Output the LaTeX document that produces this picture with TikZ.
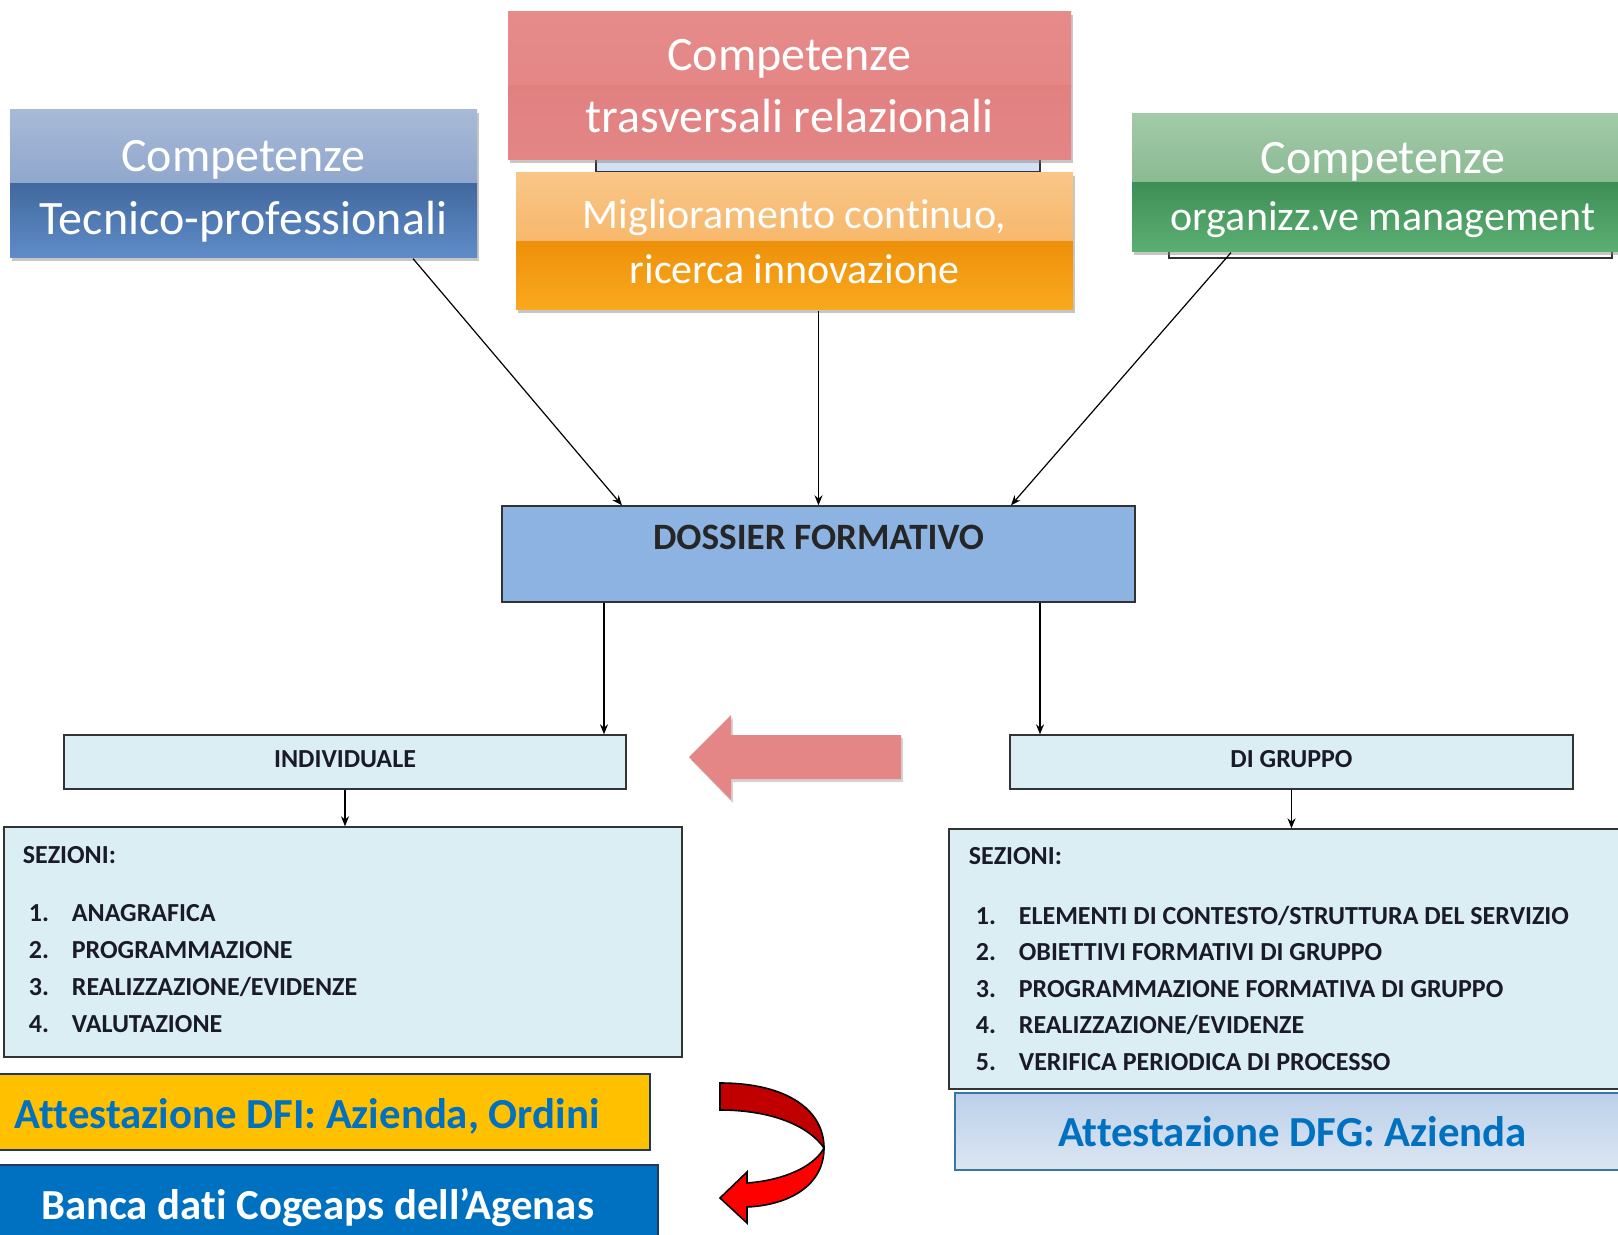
\documentclass[tikz,border=0pt]{standalone}
\usepackage{fontspec}
\setmainfont{Carlito}[Ligatures=NoCommon]
\usetikzlibrary{arrows.meta,shadows}

\definecolor{dossierblue}{HTML}{8DB3E2}
\definecolor{paleblue}{HTML}{DAEEF3}
\definecolor{attyellow}{HTML}{FFC000}
\definecolor{attblue}{HTML}{0070C0}
\definecolor{navyedge}{HTML}{1F3864}
\definecolor{pinkred}{HTML}{E48686}
\definecolor{darkred}{HTML}{C00000}
\definecolor{listink}{HTML}{1A1A2A}
% sfumature dei riquadri
\definecolor{tecnA}{HTML}{A7BAD7}\definecolor{tecnB}{HTML}{7893C2}
\definecolor{tecnC}{HTML}{42699F}\definecolor{tecnD}{HTML}{5F8CC8}
\definecolor{relA}{HTML}{E68A8A}\definecolor{relB}{HTML}{E38383}
\definecolor{relC}{HTML}{E28080}\definecolor{relD}{HTML}{E48686}
\definecolor{miglA}{HTML}{F9C688}\definecolor{miglB}{HTML}{F4AA4F}
\definecolor{miglC}{HTML}{EE900A}\definecolor{miglD}{HTML}{F9A91F}
\definecolor{orgaA}{HTML}{A2CAA8}\definecolor{orgaB}{HTML}{72AA7C}
\definecolor{orgaC}{HTML}{3E8F56}\definecolor{orgaD}{HTML}{5CAF73}
\definecolor{dfgA}{HTML}{BCD0EA}\definecolor{dfgB}{HTML}{DCE6F2}

\tikzset{
  glossy/.style n args={4}{path picture={
      \shade[top color=#1, bottom color=#2] (path picture bounding box.north west) rectangle (path picture bounding box.east);
      \shade[top color=#3, bottom color=#4] (path picture bounding box.west) rectangle (path picture bounding box.south east);}},
  compbox/.style={rectangle, inner sep=0pt,
      drop shadow={opacity=0.45, shadow xshift=1pt, shadow yshift=-1.5pt}},
  comptext/.style={text=white, align=center, inner sep=0pt},
  plainbox/.style={rectangle, draw=black!80, line width=0.7pt, fill=paleblue, inner sep=0pt},
  listtext/.style={font=\bfseries\fontsize{13}{18.5}\selectfont, text=listink, inner sep=0pt},
  attbox/.style={rectangle, draw=navyedge, line width=0.8pt, inner sep=0pt},
  atttext/.style={inner sep=0pt, font=\bfseries\fontsize{21.4}{25}\selectfont}
}

\begin{document}
\begin{tikzpicture}[x=0.5pt, y=-0.5pt, >={Stealth[length=5pt,width=4pt]}, line width=0.6pt]
    \useasboundingbox (0,0) rectangle (1618,1235);

    % riquadri coperti
    \node[plainbox, fill=dossierblue!40, minimum width=222pt, minimum height=26pt] (relback) at (818,146) {};
    \node[plainbox, fill=white, minimum width=221.5pt, minimum height=29pt] (orgback) at (1390.5,229) {};

    % competenze
    \node[compbox, glossy={tecnA}{tecnB}{tecnC}{tecnD}, minimum width=233.5pt, minimum height=74pt] (tecn) at (243.5,184) {};
    \node[comptext, font=\fontsize{24}{31.5}\selectfont] (tecntxt) at ([yshift=-3.5pt]tecn.center) {Competenze\\Tecnico-professionali};

    \node[compbox, glossy={relA}{relB}{relC}{relD}, minimum width=281.5pt, minimum height=74pt] (rel) at (789.5,86) {};
    \node[comptext, font=\fontsize{24}{31}\selectfont] (reltxt) at (rel.center) {Competenze\\trasversali relazionali};

    \node[compbox, glossy={miglA}{miglB}{miglC}{miglD}, minimum width=278.5pt, minimum height=68.5pt] (migl) at (794.5,241.5) {};
    \node[comptext, font=\fontsize{21}{27.5}\selectfont] (migltxt) at (migl.center) {Miglioramento continuo,\\ricerca innovazione};

    \node[compbox, glossy={orgaA}{orgaB}{orgaC}{orgaD}, minimum width=251pt, minimum height=69pt] (orga) at (1383,183) {};
    \node[comptext, font=\fontsize{24}{28.5}\selectfont] (orgatxt) at ([yshift=-3.5pt]orga.center) {Competenze\\{\fontsize{21}{28.5}\selectfont organizz.ve management}};

    % dossier
    \node[plainbox, fill=dossierblue, minimum width=316.5pt, text height=22pt, text depth=26pt,
          font=\bfseries\fontsize{18.6}{22}\selectfont, text=black!85] (dossier) at (818.5,554) {DOSSIER FORMATIVO};

    \draw[->] ([xshift=84.75pt]tecn.south) -- ([xshift=-98.25pt]dossier.north);
    \draw[->] (migl.south -| dossier.north) -- (dossier.north);
    \draw[->] ([xshift=-76pt]orga.south) -- ([xshift=96.25pt]dossier.north);

    % individuale e di gruppo
    \node[plainbox, minimum width=281pt, minimum height=27pt, text height=9pt, text depth=4pt,
          font=\bfseries\fontsize{13}{15}\selectfont, text=listink] (indiv) at (345,762) {INDIVIDUALE};
    \node[plainbox, minimum width=281.5pt, minimum height=27pt, text height=9pt, text depth=4pt,
          font=\bfseries\fontsize{13}{15}\selectfont, text=listink] (gruppo) at (1291.5,762) {DI GRUPPO};

    \draw[->] ([xshift=-107.25pt]dossier.south) -- ([xshift=-107.25pt]dossier.south |- indiv.north);
    \draw[->] ([xshift=110.75pt]dossier.south) -- ([xshift=110.75pt]dossier.south |- gruppo.north);

    % freccia rosa
    \fill[pinkred, drop shadow={opacity=0.35, shadow xshift=1pt, shadow yshift=-1.5pt}]
        (689,757) -- (731,715) -- (731,735) -- (901,735) -- (901,779) -- (731,779) -- (731,800) -- cycle;

    % sezioni
    \node[plainbox, minimum width=339pt, minimum height=115pt] (sezind) at (343,942) {};
    \node[plainbox, minimum width=340.5pt, minimum height=130pt] (sezgrp) at (1289.5,959) {};

    \draw[->] (indiv.south) -- (indiv.south |- sezind.north);
    \draw[->] (gruppo.south) -- (gruppo.south |- sezgrp.north);

    \node[listtext, anchor=base west] (sezindtxt) at ([xshift=9.5pt,yshift=-18.5pt]sezind.north west) {%
      \begin{tabular}[t]{@{}p{24.5pt}@{}l@{}}
        \multicolumn{2}{@{}l@{}}{SEZIONI:}\\[10.5pt]
        \hspace{3pt}1. & ANAGRAFICA\\
        \hspace{3pt}2. & PROGRAMMAZIONE\\
        \hspace{3pt}3. & REALIZZAZIONE/EVIDENZE\\
        \hspace{3pt}4. & VALUTAZIONE
      \end{tabular}};
    \node[listtext, font=\bfseries\fontsize{13}{18.25}\selectfont, anchor=base west] (sezgrptxt) at ([xshift=10pt,yshift=-18pt]sezgrp.north west) {%
      \begin{tabular}[t]{@{}p{25pt}@{}l@{}}
        \multicolumn{2}{@{}l@{}}{SEZIONI:}\\[11.75pt]
        \hspace{3.5pt}1. & ELEMENTI DI CONTESTO/STRUTTURA DEL SERVIZIO\\
        \hspace{3.5pt}2. & OBIETTIVI FORMATIVI DI GRUPPO\\
        \hspace{3.5pt}3. & PROGRAMMAZIONE FORMATIVA DI GRUPPO\\
        \hspace{3.5pt}4. & REALIZZAZIONE/EVIDENZE\\
        \hspace{3.5pt}5. & VERIFICA PERIODICA DI PROCESSO
      \end{tabular}};

    % attestazioni
    \node[attbox, fill=attyellow, minimum width=326.5pt, minimum height=38pt] (attdfi) at (323.5,1112) {};
    \node[atttext, text=attblue, anchor=west] (attdfitxt) at ([xshift=9pt,yshift=-2pt]attdfi.west) {Attestazione DFI: Azienda, Ordini};

    \node[attbox, fill=attblue, minimum width=330.5pt, minimum height=37.5pt] (banca) at (327.5,1202.5) {};
    \node[atttext, text=white] (bancatxt) at ([xshift=-5pt,yshift=-2.5pt]banca.center) {Banca dati Cogeaps dell’Agenas};

    \node[attbox, draw=attblue!55!gray, top color=dfgA, bottom color=dfgB, minimum width=337.5pt, minimum height=38.5pt] (attdfg) at (1292.5,1131.5) {};
    \node[atttext, text=attblue] (attdfgtxt) at (attdfg.center) {Attestazione DFG: Azienda};

    % freccia curva
    \filldraw[fill=darkred, draw=black, line width=0.8pt]
        (720,1083) .. controls (787,1083) and (824,1110) .. (824,1148)
        .. controls (808,1125) and (770,1110) .. (720,1110) -- cycle;
    \filldraw[fill=red, draw=black, line width=0.8pt]
        (824,1148) .. controls (824,1185) and (790,1205) .. (747,1207) -- (747,1223) -- (720,1198) -- (747,1172)
        -- (747,1183) .. controls (787,1180) and (815,1165) .. (824,1148) -- cycle;
\end{tikzpicture}
\end{document}
